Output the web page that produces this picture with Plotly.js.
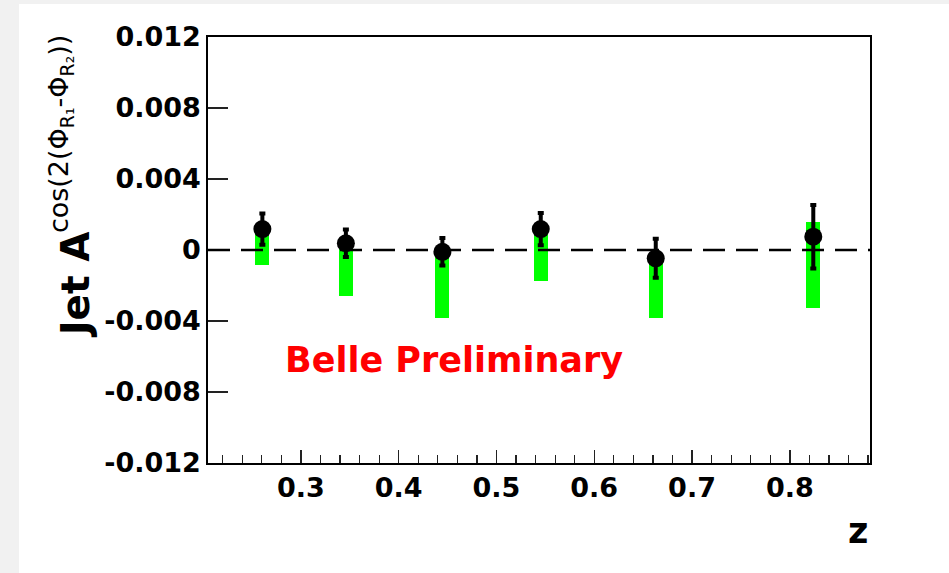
<!DOCTYPE html>
<html>
<head>
<meta charset="utf-8">
<script src="https://cdn.plot.ly/plotly-3.0.1.min.js"></script>
<style>
html, body { margin: 0; padding: 0; background: #f1f1f1; width: 949px; height: 573px; overflow: hidden; }
#chart { position: absolute; left: 19px; top: 4px; width: 930px; height: 569px; background: #ffffff; }
</style>
</head>
<body>
<div id="chart"></div>
<script>
// z bins and measured asymmetry
const zValues = [0.2606, 0.346, 0.4447, 0.5453, 0.6629, 0.824];
const asymmetry = [0.00118, 0.00038, -0.0001, 0.00118, -0.00047, 0.00075];
const statError = [0.00088, 0.00077, 0.00078, 0.00091, 0.0011, 0.00179];
// systematic band edges
const sysLow = [-0.00085, -0.00257, -0.00385, -0.00173, -0.00385, -0.00325];
const sysHigh = [0.0011, 0.0003, -0.0002, 0.0011, -0.0006, 0.0016];
// axis ticks
const yTickVals = [-0.012, -0.008, -0.004, 0, 0.004, 0.008, 0.012];
const yTickText = ["-0.012", "-0.008", "-0.004", "0", "0.004", "0.008", "0.012"];
const xTickVals = [0.3, 0.4, 0.5, 0.6, 0.7, 0.8];
const xTickText = ["0.3", "0.4", "0.5", "0.6", "0.7", "0.8"];

const bandTrace = {
  type: 'bar',
  x: zValues,
  base: sysLow,
  y: sysHigh.map((h, i) => h - sysLow[i]),
  width: 0.0143,
  marker: { color: '#00ff00', line: { width: 0 } },
  hoverinfo: 'skip',
  showlegend: false
};

const pointTrace = {
  type: 'scatter',
  mode: 'markers',
  x: zValues,
  y: asymmetry,
  marker: { color: '#000000', size: 18, symbol: 'circle' },
  error_y: { type: 'data', array: statError, visible: true, color: '#000000', thickness: 4, width: 3 },
  showlegend: false
};

const tickFont = { family: 'DejaVu Sans, sans-serif', size: 27, color: '#000000', weight: 'bold' };

const layout = {
  width: 930,
  height: 569,
  margin: { l: 189, r: 79, t: 33, b: 110 },
  paper_bgcolor: '#ffffff',
  plot_bgcolor: '#ffffff',
  showlegend: false,
  xaxis: {
    range: [0.205, 0.882],
    tickvals: xTickVals,
    ticktext: xTickText,
    ticks: 'inside',
    ticklen: 13,
    tickwidth: 1.5,
    tickcolor: '#222222',
    minor: { dtick: 0.02, tick0: 0.2, ticks: 'inside', ticklen: 8, tickwidth: 1.2, tickcolor: '#222222', showgrid: false },
    showline: true,
    linecolor: '#000000',
    linewidth: 1.8,
    mirror: true,
    showgrid: false,
    zeroline: false,
    tickfont: tickFont,
    fixedrange: true
  },
  yaxis: {
    range: [-0.012, 0.012],
    tickvals: yTickVals,
    ticktext: yTickText,
    ticks: 'inside',
    ticklen: 20,
    tickwidth: 1.5,
    tickcolor: '#222222',
    showline: true,
    linecolor: '#000000',
    linewidth: 1.8,
    mirror: true,
    showgrid: false,
    zeroline: false,
    tickfont: tickFont,
    fixedrange: true
  },
  bargap: 0,
  shapes: [
    {
      type: 'line', xref: 'paper', yref: 'y', x0: 0, x1: 1, y0: 0, y1: 0,
      line: { color: '#000000', width: 2.5, dash: '22px,11px' },
      layer: 'above'
    }
  ],
  annotations: [
    {
      text: 'Belle Preliminary', xref: 'paper', yref: 'paper', x: 0.1133, y: 0.2418,
      xanchor: 'left', yanchor: 'middle', showarrow: false,
      font: { family: 'DejaVu Sans, sans-serif', size: 35, color: '#ff0000', weight: 'bold' }
    },
    {
      text: 'z', xref: 'paper', yref: 'paper', x: 1.0, y: -0.16,
      xanchor: 'right', yanchor: 'middle', showarrow: false,
      font: { family: 'DejaVu Sans, sans-serif', size: 35, color: '#000000', weight: 'bold' }
    },
    {
      text: 'Jet A', xref: 'paper', yref: 'paper', x: -0.2009, y: 0.4178,
      xanchor: 'center', yanchor: 'middle', textangle: -90, showarrow: false,
      font: { family: 'DejaVu Sans, sans-serif', size: 39, color: '#000000', weight: 'bold' }
    },
    {
      text: 'cos(2(Φ<sub>R₁</sub>-Φ<sub>R₂</sub>))', xref: 'paper', yref: 'paper', x: -0.2236, y: 0.772,
      xanchor: 'center', yanchor: 'middle', textangle: -90, showarrow: false,
      font: { family: 'DejaVu Sans, sans-serif', size: 27, color: '#000000' }
    }
  ]
};

Plotly.newPlot('chart', [bandTrace, pointTrace], layout, { displayModeBar: false, staticPlot: true });
</script>
</body>
</html>
